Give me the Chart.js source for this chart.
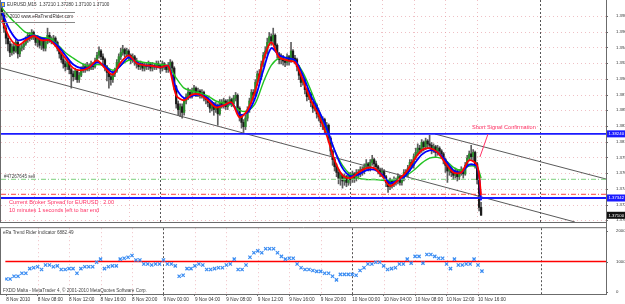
<!DOCTYPE html>
<html><head><meta charset="utf-8">
<script src="https://cdn.jsdelivr.net/npm/chart.js@4.4.1/dist/chart.umd.min.js"></script>
<style>
html,body{margin:0;padding:0;background:#fff;}
#wrap{position:relative;width:625px;height:304px;overflow:hidden;background:#fff;}
#c1{position:absolute;left:0;top:0;}
#c2{position:absolute;left:0;top:223px;}
</style></head><body>
<div id="wrap"><canvas id="c1" width="625" height="223"></canvas><canvas id="c2" width="625" height="81"></canvas></div>
<script>
// ---------- DATA (EURUSD M15, prices = BASE + pips/10000) ----------
const BASE = 1.37;
const openPips = [300,290,272,258,250,238,246,240,252,236, 244,246,250,256,262,258,266,260,252,258,
248,256,244,252,262,256,254,258,252,244, 236,228,222,218,224,214,208,204,212,200,
206,214,218,214,220,216,222,218,226,234, 240,232,228,218,210,204,200,208,212,224,
232,238,242,236,240,234,228,232,226,222, 218,222,216,220,218,222,216,220,218,222,
220,216,222,218,214,220,224,216,190,166, 158,162,154,170,176,182,178,184,188,180,
184,178,182,176,172,168,160,166,158,164, 152,168,164,170,162,168,172,166,174,178,
160,148,140,134,146,158,170,182,178,196, 208,204,222,234,240,252,260,254,262,248,
236,228,232,226,224,232,226,240,230,228, 218,206,196,200,186,176,180,168,160,164,
152,148,140,144,130,136,118,100,88,78, 70,62,66,58,64,56,66,60,68,62,
70,68,74,72,78,82,76,84,88,82, 78,74,70,72,64,56,50,58,54,60,
58,64,56,62,70,68,76,84,80,92, 98,104,102,112,106,114,110,108,102,106,
98,104,100,96,88,80,72,76,70,66, 72,64,70,74,68,80,90,96,92,98,
82,60,21];
const highPips = [307,294,276,262,254,250,252,256,254,248, 250,254,260,266,266,270,268,262,262,260,
258,258,256,272,266,260,262,260,254,246, 238,232,226,228,226,216,212,216,214,210,
218,222,222,224,222,226,224,230,238,246, 242,236,230,220,214,208,212,216,228,236,
244,248,244,244,242,236,236,234,230,224, 226,224,224,224,226,224,224,222,226,226,
222,226,224,220,224,228,226,218,192,170, 166,166,174,180,188,186,188,192,190,188,
186,186,184,178,176,170,170,168,168,166, 172,172,174,172,172,176,174,178,182,180,
162,150,144,150,162,174,186,186,200,212, 214,226,238,246,258,266,264,272,264,250,
238,236,234,230,236,234,252,242,234,230, 220,208,204,202,188,184,182,170,168,166,
156,150,148,146,140,138,120,102,90,82, 74,70,68,68,66,70,70,72,70,74,
74,78,78,82,88,84,88,94,90,86, 80,76,76,74,66,58,62,60,64,62,
68,66,66,74,74,80,88,88,96,104, 110,108,116,114,118,116,122,112,110,108,
108,106,102,98,90,82,80,78,72,76, 74,74,78,76,84,94,100,108,102,100,
84,62,28];
const lowPips = [284,266,250,240,232,234,236,238,230,232, 240,242,248,252,254,256,256,248,246,244,
242,240,240,250,252,250,250,246,240,230, 224,216,212,214,208,188,198,200,196,196,
204,210,210,212,212,214,214,216,224,230, 228,222,212,198,188,192,196,204,210,220,
228,234,232,232,228,222,224,220,216,214, 214,212,212,214,214,212,212,214,214,216,
210,212,214,210,210,216,212,186,160,150, 148,146,150,166,172,174,174,180,176,176,
174,174,170,166,162,154,156,150,154,136, 150,160,160,158,158,164,162,164,170,156,
142,132,126,130,142,154,166,172,176,192, 198,200,218,230,236,248,248,250,244,230,
222,222,220,218,220,220,224,226,222,212, 200,190,192,180,170,172,162,154,156,146,
142,134,130,124,126,112,94,80,72,64, 54,52,48,52,50,52,54,56,56,58,
62,64,66,68,74,72,72,80,78,72, 68,64,64,58,50,42,46,48,50,52,
54,52,52,58,64,64,72,76,76,88, 94,96,98,100,102,104,104,96,98,92,
94,94,90,82,70,56,66,64,60,62, 58,60,66,62,66,78,86,88,86,76,
54,16,10];
const closePips = [290,272,258,250,238,246,240,252,236,244, 246,250,256,262,258,266,260,252,258,248,
256,244,252,262,256,254,258,252,244,236, 228,222,218,224,214,208,204,212,200,206,
214,218,214,220,216,222,218,226,234,240, 232,228,218,210,204,200,208,212,224,232,
238,242,236,240,234,228,232,226,222,218, 222,216,220,218,222,216,220,218,222,220,
216,222,218,214,220,224,216,190,166,158, 162,154,170,176,182,178,184,188,180,184,
178,182,176,172,168,160,166,158,164,152, 168,164,170,162,168,172,166,174,178,160,
148,140,134,146,158,170,182,178,196,208, 204,222,234,240,252,260,254,262,248,236,
228,232,226,224,232,226,240,230,228,218, 206,196,200,186,176,180,168,160,164,152,
148,140,144,130,136,118,100,88,78,70, 62,66,58,64,56,66,60,68,62,70,
68,74,72,78,82,76,84,88,82,78, 74,70,72,64,56,50,58,54,60,58,
64,56,62,70,68,76,84,80,92,98, 104,102,112,106,114,110,108,102,106,98,
104,100,96,88,80,72,76,70,66,72, 64,70,74,68,80,90,96,92,98,82,
60,21,10];

// moving averages (bar index / pips)
const maBars = [0,4,8,12,16,20,24,28,32,36,40,44,48,52,56,60,64,68,72,76,80,84,88,92,96,100,104,108,112,116,
120,124,128,132,136,140,144,148,152,156,160,164,168,172,176,180,184,188,192,196,200,204,208,212,216,220,224,228,232,236,240,242];
const maFastPips = [283,258,248,255,261,255,255,244,230,216,213,217,227,216,207,224,234,223,220,219,217,219,178,171,179,179,171,161,164,168,
147,157,185,227,252,231,227,224,199,171,150,122,87,66,62,70,76,76,65,51,59,70,87,101,104,98,83,70,70,87,80,38];
const maMidPips = [294,269,255,258,262,258,255,248,234,221,216,217,224,219,210,220,231,224,220,219,217,219,188,174,177,179,174,164,164,167,
151,154,175,213,244,234,230,227,206,178,157,132,101,76,65,67,73,74,67,55,59,66,81,95,101,98,87,73,70,81,78,31];
const maSlowPips = [300,287,276,266,263,259,258,249,238,230,223,219,221,219,213,220,227,226,224,223,221,219,202,188,184,181,177,170,167,165,
157,156,167,196,220,230,230,226,210,185,157,129,101,80,67,62,60,60,59,59,60,65,73,83,90,91,87,77,73,79,77,62];

// eRa Trend Rider indicator, one value every 2 bars
const indicatorValues = [4300,4300,5200,5200,6200,6200,7700,8000,8300,7400,
8900,8900,8300,8600,7400,7400,7700,7700,6200,7700,
8300,8300,8300,9800,10800,7700,8300,8600,8600,10800,
11100,11400,12000,10500,10500,9200,9200,8900,9200,9200,
10500,9200,9200,8600,5200,5500,7700,7700,8600,9200,
8900,7400,7400,7700,8000,8000,8900,9200,10800,7400,
7400,8900,11400,12900,13500,12900,14200,14200,14200,12900,
11700,10800,11100,11100,9200,8000,7400,7400,7100,6800,
6800,6200,6200,5200,4000,5800,5800,5800,5800,5500,
7100,8000,9200,9200,9800,9800,8600,7400,7700,8000,
9200,9200,10800,9500,11700,11700,9500,12300,12300,11700,
11100,11100,9200,7700,10800,8900,8900,9200,9200,10800,
8900,6882];
const indicatorLevel = 10000;
const indicatorTicks = [0, 10000, 20000];

// axes
const timeLabels = ['8 Nov 2010','8 Nov 08:00','8 Nov 12:00','8 Nov 16:00','8 Nov 20:00','9 Nov 00:00','9 Nov 04:00',
'9 Nov 08:00','9 Nov 12:00','9 Nov 16:00','9 Nov 20:00','10 Nov 00:00','10 Nov 04:00','10 Nov 08:00','10 Nov 12:00','10 Nov 16:00'];
const timeBars = [0,16,32,48,64,80,96,112,128,144,160,176,192,208,224,240];
const dayBreakBars = [80,176,272];
const priceTicks = [1.3989,1.3967,1.3945,1.3923,1.3901,1.3879,1.3857,1.3835,1.3813,1.3791,1.3769,1.3747,1.3725,1.3703];

// objects on chart
const resistanceLevel = 1.38240;
const supportLevel = 1.37342;
const stopLevel = 1.37394;     // red dash-dot
const orderLevel = 1.37604;    // green dash-dot (#47267645 sell)
const lastPrice = 1.37100;
const trendLong = [{bar:-0.5, price:1.39162},{bar:289.4, price:1.37006}];
const channelTop = [{bar:218.7, price:1.38238},{bar:305.1, price:1.37608}];
const signalArrow = [{bar:245.5, price:1.38238},{bar:241.4, price:1.37916}];

// ---------- BUILD ----------
const P = v => +(BASE + v/10000).toFixed(5);
const X_MIN = -0.5, X_MAX = 305.1, Y_MIN = 1.37006, Y_MAX = 1.40114;
const FONT = 'Liberation Sans, Arial, sans-serif';
const AXFONT = 4.3;

const wicks = closePips.map((c,i)=>({x:i, y:[P(lowPips[i]), P(highPips[i])]}));
const bodies = closePips.map((c,i)=>({x:i, y:[P(openPips[i]), P(c)]}));
const bodyColors = closePips.map((c,i)=> c >= openPips[i] ? '#2c8c2c' : '#1c1c1c');
const maSeries = arr => arr.map((v,k)=>({x:maBars[k], y:P(v)}));
const hLine = v => [{x:X_MIN,y:v},{x:X_MAX,y:v}];
const seg = arr => arr.map(p=>({x:p.bar, y:p.price}));
const GRID = 'rgba(225,140,150,0.55)';

function vline(ctx,x,y0,y1){ctx.beginPath();ctx.moveTo(x,y0);ctx.lineTo(x,y1);ctx.stroke();}
function hline(ctx,y,x0,x1){ctx.beginPath();ctx.moveTo(x0,y);ctx.lineTo(x1,y);ctx.stroke();}

const mainOverlay = {
  id:'mainOverlay',
  beforeDatasetsDraw(chart){
    const {ctx, chartArea:a, scales:{x,y}} = chart;
    ctx.save();
    ctx.lineWidth = 1; ctx.strokeStyle = GRID; ctx.setLineDash([1,3]);
    timeBars.slice(1).forEach(b=>{const px=Math.round(x.getPixelForValue(b))+0.5; vline(ctx,px,a.top,a.bottom);});
    priceTicks.forEach(v=>{const py=Math.round(y.getPixelForValue(v))+0.5; hline(ctx,py,a.left,a.right);});
    ctx.strokeStyle = '#555'; ctx.setLineDash([2,2]);
    dayBreakBars.forEach(b=>{const px=Math.round(x.getPixelForValue(b))+0.5; vline(ctx,px,a.top,a.bottom);});
    ctx.restore();
  },
  afterDraw(chart){
    const {ctx, chartArea:a, scales:{x,y}} = chart;
    ctx.save();
    ctx.strokeStyle = '#6b6b6b'; ctx.lineWidth = 1; ctx.setLineDash([]);
    vline(ctx, a.right+0.5, 0, a.bottom+1);
    vline(ctx, 0.5, 0, a.bottom+1);
    ctx.lineWidth = 2; hline(ctx, a.bottom+1, 0, a.right+1);
    ctx.lineWidth = 1;
    priceTicks.forEach(v=>{const py=Math.round(y.getPixelForValue(v))+0.5; hline(ctx,py,a.right,a.right+2);});
    const box = (v, bg, fg) => {
      const py = y.getPixelForValue(v);
      ctx.fillStyle = bg; ctx.fillRect(a.right+1, py-3.5, 625-a.right, 7);
      ctx.fillStyle = fg; ctx.font = AXFONT+'px '+FONT; ctx.textBaseline='middle'; ctx.textAlign='left';
      ctx.fillText(v.toFixed(5), a.right+2.5, py+0.3);
    };
    box(resistanceLevel,'#1a1aff','#fff');
    box(supportLevel,'#1a1aff','#fff');
    box(lastPrice,'#111','#fff');
    const ax0 = x.getPixelForValue(signalArrow[0].bar), ay0 = y.getPixelForValue(signalArrow[0].price);
    const ax1 = x.getPixelForValue(signalArrow[1].bar), ay1 = y.getPixelForValue(signalArrow[1].price);
    ctx.strokeStyle = '#ff3366'; ctx.lineWidth = 1; ctx.beginPath(); ctx.moveTo(ax0,ay0); ctx.lineTo(ax1,ay1); ctx.stroke();
    ctx.textBaseline = 'middle'; ctx.textAlign = 'left';
    ctx.fillStyle = '#ff3366'; ctx.font = '5.6px '+FONT;
    ctx.fillText('Short Signal Confirmation', 472, 127);
    ctx.fillText('Current Broker Spread for EURUSD : 2.00', 9, 202.5);
    ctx.fillText('10 minutes 1 seconds left to bar end', 9, 210);
    ctx.fillStyle = '#444'; ctx.font = '4.6px '+FONT;
    ctx.fillText('#47267645 sell', 4, y.getPixelForValue(orderLevel)-2.5);
    ctx.fillStyle = '#3a6fd8'; ctx.fillRect(1,2,4,5); ctx.fillStyle='#f2c230'; ctx.fillRect(2,3,2,3);
    ctx.fillStyle = '#333'; ctx.font = '4.6px '+FONT;
    ctx.fillText('EURUSD,M15  1.37210 1.37280 1.37100 1.37100', 7, 5);
    ctx.fillText('\u00A9 2010 www.eRaTrendRider.com', 5, 16.5);
    ctx.strokeStyle = '#888'; ctx.lineWidth = 1;
    hline(ctx, 12.5, 0, 75); hline(ctx, 22.5, 0, 75);
    ctx.restore();
  }
};

new Chart(document.getElementById('c1'), {
  type:'bar',
  data:{datasets:[
    {label:'wick', data:wicks, backgroundColor:'#5e5e5e', barThickness:1, grouped:false, order:10},
    {label:'body', data:bodies, backgroundColor:bodyColors, barThickness:1.6, grouped:false, order:9},
    {type:'line', label:'trend', data:seg(trendLong), borderColor:'#5a5a5a', borderWidth:1, pointRadius:0, order:8},
    {type:'line', label:'channel', data:seg(channelTop), borderColor:'#5a5a5a', borderWidth:1, pointRadius:0, order:8},
    {type:'line', label:'slow', data:maSeries(maSlowPips), borderColor:'#22c422', borderWidth:1.4, pointRadius:0, tension:0.3, order:6},
    {type:'line', label:'mid', data:maSeries(maMidPips), borderColor:'#0000ff', borderWidth:1.8, pointRadius:0, tension:0.3, order:5},
    {type:'line', label:'fast', data:maSeries(maFastPips), borderColor:'#ff0000', borderWidth:1.8, pointRadius:0, tension:0.3, order:4},
    {type:'line', label:'order', data:hLine(orderLevel), borderColor:'#7ccf7c', borderWidth:1, borderDash:[5,2,1,2], pointRadius:0, order:3},
    {type:'line', label:'stop', data:hLine(stopLevel), borderColor:'#ff4040', borderWidth:1, borderDash:[5,2,1,2], pointRadius:0, order:3},
    {type:'line', label:'res', data:hLine(resistanceLevel), borderColor:'#1a1aff', borderWidth:1.8, pointRadius:0, order:2},
    {type:'line', label:'sup', data:hLine(supportLevel), borderColor:'#1a1aff', borderWidth:1.8, pointRadius:0, order:2}
  ]},
  options:{
    responsive:false, animation:false, events:[],
    plugins:{legend:{display:false}, tooltip:{enabled:false}},
    layout:{padding:{left:1, top:0, right:0, bottom:1}},
    scales:{
      x:{type:'linear', min:X_MIN, max:X_MAX, display:false, offset:false},
      y:{position:'right', min:Y_MIN, max:Y_MAX,
         afterBuildTicks:s=>{s.ticks = priceTicks.map(v=>({value:v}));},
         ticks:{callback:v=>v.toFixed(5), font:{family:FONT, size:AXFONT}, color:'#333', padding:2},
         grid:{display:false}, border:{display:false},
         afterFit:s=>{s.width=19; s.paddingTop=0; s.paddingBottom=0;}}
    }
  },
  plugins:[mainOverlay]
});

const indOverlay = {
  id:'indOverlay',
  beforeDatasetsDraw(chart){
    const {ctx, chartArea:a, scales:{x}} = chart;
    ctx.save();
    ctx.lineWidth=1; ctx.strokeStyle=GRID; ctx.setLineDash([1,3]);
    timeBars.slice(1).forEach(b=>{const px=Math.round(x.getPixelForValue(b))+0.5; vline(ctx,px,a.top,a.bottom);});
    ctx.strokeStyle='#555'; ctx.setLineDash([2,2]);
    dayBreakBars.forEach(b=>{const px=Math.round(x.getPixelForValue(b))+0.5; vline(ctx,px,a.top,a.bottom);});
    ctx.restore();
  },
  afterDraw(chart){
    const {ctx, chartArea:a, scales:{y}} = chart;
    ctx.save();
    ctx.strokeStyle='#6b6b6b'; ctx.lineWidth=1;
    hline(ctx, a.top-0.5, 0, a.right+1);
    hline(ctx, a.bottom+0.5, 0, a.right+1);
    vline(ctx, a.right+0.5, 0, a.bottom+1);
    vline(ctx, 0.5, a.top, a.bottom);
    indicatorTicks.forEach(v=>{const py=Math.round(y.getPixelForValue(v))+0.5; hline(ctx,py,a.right,a.right+2);});
    ctx.fillStyle='#444'; ctx.font='4.6px '+FONT; ctx.textBaseline='middle'; ctx.textAlign='left';
    ctx.fillText('eRa Trend Rider Indicator 6882.49', 3, a.top+5);
    ctx.fillText('FXDD Malta - MetaTrader 4, \u00A9 2001-2010 MetaQuotes Software Corp.', 3, a.bottom-3);
    ctx.restore();
  }
};

new Chart(document.getElementById('c2'), {
  type:'scatter',
  data:{datasets:[
    {type:'line', data:hLine(indicatorLevel), borderColor:'#ff0000', borderWidth:1.5, pointRadius:0, order:2},
    {data:indicatorValues.map((v,k)=>({x:k*2, y:v})), pointStyle:'crossRot', pointRadius:2.3,
     borderColor:'#3a8cf2', backgroundColor:'#3a8cf2', borderWidth:1.2, order:1}
  ]},
  options:{
    responsive:false, animation:false, events:[],
    plugins:{legend:{display:false}, tooltip:{enabled:false}},
    layout:{padding:{left:1, top:1, right:0, bottom:0}},
    scales:{
      x:{type:'linear', min:X_MIN, max:X_MAX, offset:false,
         afterBuildTicks:s=>{s.ticks = timeBars.map(v=>({value:v}));},
         ticks:{callback:(v,i)=>timeLabels[i], align:'start', maxRotation:0, minRotation:0, autoSkip:false,
                font:{family:FONT, size:4.7}, color:'#333', padding:1},
         grid:{drawOnChartArea:false, drawTicks:true, tickLength:2, color:'#777'}, border:{display:false},
         afterFit:s=>{s.height=10; s.paddingLeft=0; s.paddingRight=0;}},
      y:{position:'right', min:-615, max:20923,
         afterBuildTicks:s=>{s.ticks = indicatorTicks.map(v=>({value:v}));},
         ticks:{callback:v=>String(v), font:{family:FONT, size:AXFONT}, color:'#333', padding:2},
         grid:{display:false}, border:{display:false},
         afterFit:s=>{s.width=19; s.paddingTop=0; s.paddingBottom=0;}}
    }
  },
  plugins:[indOverlay]
});
</script></body></html>
